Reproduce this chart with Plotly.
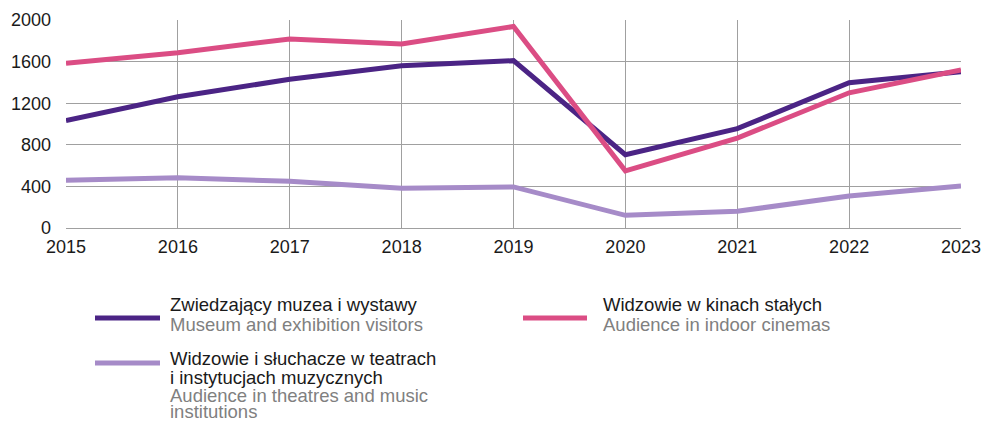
import plotly.graph_objects as go

years = [2015, 2016, 2017, 2018, 2019, 2020, 2021, 2022, 2023]
museum = [1034, 1262, 1430, 1560, 1609, 705, 955, 1397, 1503]
cinema = [1584, 1686, 1818, 1770, 1937, 549, 864, 1300, 1519]
theatre = [460, 482, 450, 383, 395, 122, 161, 308, 405]

y_ticks = [0, 400, 800, 1200, 1600, 2000]

C_MUSEUM = "#4B2485"
C_CINEMA = "#DB4D84"
C_THEATRE = "#A68BC8"
FONT = "Liberation Sans, Arial, sans-serif"

W, H = 982, 422
L, T = 66, 20
R = W - 961
B = H - 228
PW, PH = W - L - R, H - T - B

def px(x):
    return (x - L) / PW

def py(y):
    return (T + PH - y) / PH

fig = go.Figure()
for name, vals, col in [("museum", museum, C_MUSEUM),
                        ("theatre", theatre, C_THEATRE),
                        ("cinema", cinema, C_CINEMA)]:
    fig.add_trace(go.Scatter(x=years, y=vals, mode="lines", name=name,
                             line=dict(color=col, width=5), showlegend=False))

fig.update_layout(
    width=W, height=H,
    margin=dict(l=L, r=R, t=T, b=B, autoexpand=False),
    paper_bgcolor="white", plot_bgcolor="white",
    font=dict(family=FONT, size=18, color="#1a1a1a"),
    xaxis=dict(range=[2015, 2023], tickvals=years, ticktext=[str(y) for y in years],
               showgrid=True, gridcolor="#a0a0a0", gridwidth=1, automargin=False,
               zeroline=False, showline=False, ticks="", ticklabelstandoff=6,
               tickfont=dict(size=18, color="#1a1a1a")),
    yaxis=dict(range=[0, 2000], tickvals=y_ticks, ticktext=[str(v) for v in y_ticks],
               showgrid=True, gridcolor="#a0a0a0", gridwidth=1, automargin=False,
               zeroline=True, zerolinecolor="#a0a0a0", zerolinewidth=1,
               showline=False, ticks="", ticklabelstandoff=14,
               tickfont=dict(size=18, color="#1a1a1a")),
)

legend_items = [
    (C_MUSEUM, 95, 160, 318, 168, [("Zwiedzający muzea i wystawy", "#1a1a1a", 304),
                                   ("Museum and exhibition visitors", "#808080", 324)]),
    (C_CINEMA, 523, 587, 318, 601, [("Widzowie w kinach stałych", "#1a1a1a", 304),
                                    ("Audience in indoor cinemas", "#808080", 324)]),
    (C_THEATRE, 95, 160, 363, 168, [("Widzowie i słuchacze w teatrach", "#1a1a1a", 358),
                                    ("i instytucjach muzycznych", "#1a1a1a", 377),
                                    ("Audience in theatres and music", "#808080", 395),
                                    ("institutions", "#808080", 411)]),
]
for col, x0, x1, ly, tx, rows in legend_items:
    fig.add_shape(type="line", xref="paper", yref="paper",
                  x0=px(x0), x1=px(x1), y0=py(ly), y1=py(ly),
                  line=dict(color=col, width=5))
    for txt, tc, ry in rows:
        fig.add_annotation(xref="paper", yref="paper", x=px(tx), y=py(ry),
                           xanchor="left", yanchor="middle", showarrow=False,
                           text=txt, font=dict(family=FONT, size=18.5, color=tc))

fig.write_html("out.html", config={"displayModeBar": False},
               post_script="document.body.style.margin='0';document.body.style.overflow='hidden';")
